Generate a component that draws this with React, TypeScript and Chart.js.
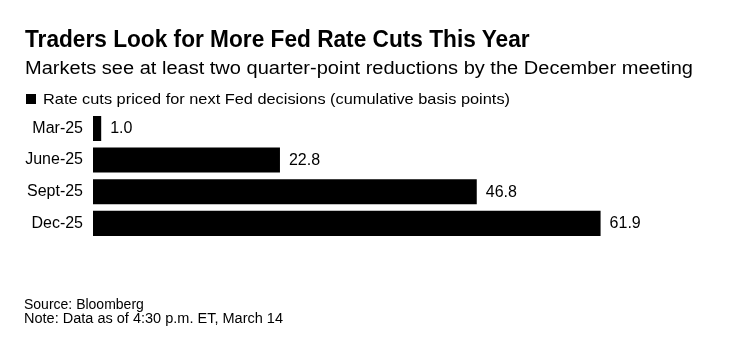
import React, { useEffect, useRef } from "react";
import { Chart, registerables } from "chart.js";

Chart.register(...registerables);

const TITLE = "Traders Look for More Fed Rate Cuts This Year";
const SUBTITLE = "Markets see at least two quarter-point reductions by the December meeting";
const SERIES_LABEL = "Rate cuts priced for next Fed decisions (cumulative basis points)";
const SOURCE = "Source: Bloomberg";
const NOTE = "Note: Data as of 4:30 p.m. ET, March 14";

const CATEGORIES = ["Mar-25", "June-25", "Sept-25", "Dec-25"];
const VALUES = [1.0, 22.8, 46.8, 61.9];
const X_MIN = 0;
const X_MAX = 70;

const FONT = '"Liberation Sans", Arial, Helvetica, sans-serif';

function fitScale(text: string, font: string, target: number): number {
  const c = document.createElement("canvas");
  const ctx = c.getContext("2d");
  if (!ctx) return 1;
  ctx.font = font;
  const w = ctx.measureText(text).width;
  return w > 0 ? target / w : 1;
}

function FitText(props: {
  text: string;
  left: number;
  baseline: number;
  size: number;
  weight?: number;
  width?: number;
}) {
  const { text, left, baseline, size, weight = 400, width } = props;
  const font = `${weight} ${size}px ${FONT}`;
  const s = width ? fitScale(text, font, width) : 1;
  return (
    <div
      style={{
        position: "absolute",
        left,
        top: baseline - 0.8465 * size,
        fontFamily: FONT,
        fontSize: size,
        fontWeight: weight,
        lineHeight: `${size}px`,
        whiteSpace: "nowrap",
        color: "#000",
        transformOrigin: "0 0",
        transform: `scaleX(${s})`,
      }}
    >
      {text}
    </div>
  );
}

export default function App() {
  const ref = useRef<HTMLCanvasElement | null>(null);

  useEffect(() => {
    if (!ref.current) return;
    const valueLabels = {
      id: "valueLabels",
      afterDatasetsDraw(chart: any) {
        const ctx = chart.ctx;
        const meta = chart.getDatasetMeta(0);
        ctx.save();
        ctx.font = `16px ${FONT}`;
        ctx.fillStyle = "#000";
        ctx.textBaseline = "middle";
        ctx.textAlign = "left";
        meta.data.forEach((el: any, i: number) => {
          ctx.fillText(VALUES[i].toFixed(1), el.x + 9, el.y + 0.5);
        });
        ctx.restore();
      },
    };
    const chart = new Chart(ref.current, {
      type: "bar",
      data: {
        labels: CATEGORIES,
        datasets: [
          {
            label: SERIES_LABEL,
            data: VALUES,
            backgroundColor: "#000000",
            borderWidth: 0,
            barPercentage: 0.79,
            categoryPercentage: 1,
          },
        ],
      },
      options: {
        indexAxis: "y",
        responsive: false,
        animation: false,
        devicePixelRatio: 1,
        layout: { padding: { top: 112.6, bottom: 114.8, right: 81, left: 0 } },
        plugins: {
          legend: { display: false },
          title: { display: false },
          tooltip: { enabled: false },
        },
        scales: {
          x: {
            display: false,
            min: X_MIN,
            max: X_MAX,
          },
          y: {
            grid: { display: false, drawTicks: false },
            border: { display: false },
            ticks: {
              padding: 10,
              color: "#000",
              font: { family: FONT, size: 16 },
            },
            afterFit: (scale: any) => {
              scale.width = 93;
            },
          },
        },
      },
      plugins: [valueLabels],
    });
    return () => chart.destroy();
  }, []);

  return (
    <div
      style={{
        position: "fixed",
        left: 0,
        top: 0,
        width: 748,
        height: 354,
        background: "#fff",
        overflow: "hidden",
      }}
    >
      <canvas
        ref={ref}
        width={748}
        height={354}
        style={{ position: "absolute", left: 0, top: 0, width: 748, height: 354 }}
      />
      <FitText text={TITLE} left={25} baseline={47.3} size={24} weight={700} width={505} />
      <FitText text={SUBTITLE} left={25} baseline={75} size={17.5} width={668} />
      <div
        style={{
          position: "absolute",
          left: 26,
          top: 94,
          width: 9.5,
          height: 9.5,
          background: "#000",
        }}
      />
      <FitText text={SERIES_LABEL} left={43.3} baseline={103.3} size={15} width={467} />
      <FitText text={SOURCE} left={24} baseline={309.3} size={14} />
      <FitText text={NOTE} left={24} baseline={323.3} size={14} width={259} />
    </div>
  );
}
